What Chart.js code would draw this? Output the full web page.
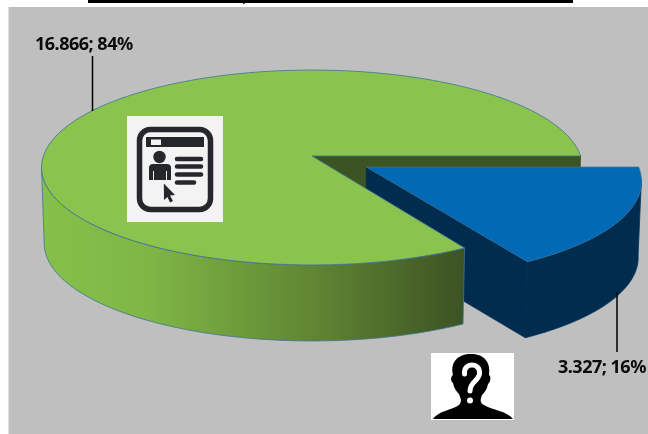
<!DOCTYPE html>
<html>
<head>
<meta charset="utf-8">
<title>Users</title>
<style>
  html, body { margin: 0; padding: 0; background: #fff; }
  canvas { display: block; }
</style>
<script src="https://cdn.jsdelivr.net/npm/chart.js@4"></script>
</head>
<body>
<canvas id="grafik" width="648" height="434"></canvas>
<script>
const categories = ['Unknown', 'Registered'];
const values = [3327, 16866];
const sliceColors = ['#0169B5', '#8AC44F'];
const explodeOffsets = [23, 0]; // percent of the radius

// tilted disc: half axes, perspective and wall height
const RX = 268.6;
const RY = 96.1;
const PERSP = 0.118;
const DEPTH = 76;
// rim angle where the disc outline turns vertical
const SIDE_ANGLE = Math.asin(PERSP);

function project(arc, u, v, lower) {
  const w = 1 - PERSP * v;
  const f = lower ? 0.99 : 1;
  return [arc.x + RX * u / w * f, arc.y + RY * v / w + (lower ? DEPTH : 0)];
}

function sliceCentre(arc) {
  const mid = (arc.startAngle + arc.endAngle) / 2;
  const off = (arc.options.offset || 0) / 100;
  return [Math.cos(mid) * off, Math.sin(mid) * off];
}

function rimPoints(arc, from, to, lower) {
  const [ou, ov] = sliceCentre(arc);
  const pts = [];
  const steps = 120;
  for (let i = 0; i <= steps; i++) {
    const a = from + (to - from) * i / steps;
    pts.push(project(arc, ou + Math.cos(a), ov + Math.sin(a), lower));
  }
  return pts;
}

function fillPoly(ctx, pts, fill, stroke) {
  ctx.beginPath();
  pts.forEach((p, i) => i ? ctx.lineTo(p[0], p[1]) : ctx.moveTo(p[0], p[1]));
  ctx.closePath();
  ctx.fillStyle = fill;
  ctx.fill();
  if (stroke) {
    ctx.strokeStyle = stroke;
    ctx.lineWidth = 0.8;
    ctx.stroke();
  }
}

function drawTop(ctx, arc) {
  const [ou, ov] = sliceCentre(arc);
  const apex = project(arc, ou, ov, false);
  const rim = rimPoints(arc, arc.startAngle, arc.endAngle, false);
  fillPoly(ctx, [apex, ...rim], arc.options.backgroundColor, '#3F7392');
}

function drawOuterWall(ctx, arc, from, to, fill, stroke) {
  const top = rimPoints(arc, from, to, false);
  const bottom = rimPoints(arc, from, to, true).reverse();
  fillPoly(ctx, [...top, ...bottom], fill, stroke);
}

function drawRadialWall(ctx, arc, angle, fill) {
  const [ou, ov] = sliceCentre(arc);
  const px = ou + Math.cos(angle);
  const py = ov + Math.sin(angle);
  fillPoly(ctx, [
    project(arc, ou, ov, false),
    project(arc, px, py, false),
    project(arc, px, py, true),
    project(arc, ou, ov, true)
  ], fill, fill);
}

function roundRectPath(ctx, x, y, w, h, r) {
  ctx.beginPath();
  ctx.roundRect(x, y, w, h, r);
}

function drawProfileIcon(ctx) {
  const ink = '#26272B';
  ctx.fillStyle = '#F3F3F3';
  ctx.fillRect(127, 116, 96, 106);

  ctx.strokeStyle = ink;
  ctx.lineWidth = 5.5;
  roundRectPath(ctx, 139.5, 129.5, 71, 80, 11);
  ctx.stroke();

  ctx.fillStyle = ink;
  ctx.fillRect(146, 137, 58, 10);
  ctx.fillStyle = '#F3F3F3';
  ctx.fillRect(151, 139.5, 10, 5.5);

  ctx.fillStyle = ink;
  ctx.beginPath();
  ctx.arc(159.5, 157, 6.2, 0, Math.PI * 2);
  ctx.fill();
  roundRectPath(ctx, 149, 164, 22, 16, [4, 4, 0, 0]);
  ctx.fill();
  ctx.fillStyle = '#F3F3F3';
  ctx.fillRect(153, 171, 1, 9);
  ctx.fillRect(166, 171, 1, 9);

  ctx.strokeStyle = ink;
  ctx.lineWidth = 4.5;
  ctx.lineCap = 'round';
  [[159, 201], [166.5, 201], [174.5, 201], [182.5, 194]].forEach(([y, x2]) => {
    ctx.beginPath();
    ctx.moveTo(177, y);
    ctx.lineTo(x2, y);
    ctx.stroke();
  });
  ctx.lineCap = 'butt';

  // pointer
  ctx.fillStyle = ink;
  ctx.beginPath();
  ctx.moveTo(163.8, 183.5);
  ctx.lineTo(175, 195);
  ctx.lineTo(170, 195.5);
  ctx.lineTo(173, 201);
  ctx.lineTo(170, 202.5);
  ctx.lineTo(167.5, 197);
  ctx.lineTo(164, 200);
  ctx.closePath();
  ctx.fill();
}

function drawUnknownIcon(ctx) {
  ctx.fillStyle = '#FFFFFF';
  ctx.fillRect(431, 353, 83, 67);

  ctx.fillStyle = '#000000';
  ctx.beginPath();
  ctx.moveTo(433, 419);
  ctx.bezierCurveTo(438, 411, 452, 410, 459, 405);
  ctx.bezierCurveTo(462, 402, 461, 399, 459, 394);
  ctx.bezierCurveTo(456, 391, 454, 388, 453, 383);
  ctx.bezierCurveTo(450, 381, 451, 376, 453, 375);
  ctx.bezierCurveTo(450, 362, 458, 354, 471, 354);
  ctx.bezierCurveTo(483, 354, 491, 361, 489, 375);
  ctx.bezierCurveTo(491, 376, 491, 382, 488, 384);
  ctx.bezierCurveTo(487, 389, 485, 392, 482, 395);
  ctx.bezierCurveTo(480, 400, 480, 403, 484, 405);
  ctx.bezierCurveTo(492, 410, 507, 411, 513, 419);
  ctx.closePath();
  ctx.fill();

  // question mark
  ctx.strokeStyle = '#FFFFFF';
  ctx.lineWidth = 5;
  ctx.lineCap = 'round';
  ctx.beginPath();
  ctx.moveTo(464.5, 374);
  ctx.bezierCurveTo(463, 362, 481, 362, 479.5, 374);
  ctx.bezierCurveTo(478.5, 381, 470, 382, 470, 391);
  ctx.stroke();
  ctx.lineCap = 'butt';
  ctx.fillStyle = '#FFFFFF';
  ctx.beginPath();
  ctx.arc(470, 400.5, 3, 0, Math.PI * 2);
  ctx.fill();
}

function sliceLabel(i) {
  const total = values.reduce((a, b) => a + b, 0);
  return values[i].toLocaleString('de-DE') + '; ' + Math.round(values[i] / total * 100) + '%';
}

function drawLabels(ctx) {
  ctx.strokeStyle = '#000';
  ctx.lineWidth = 1.5;
  ctx.beginPath();
  ctx.moveTo(92.5, 56);
  ctx.lineTo(92.5, 111);
  ctx.moveTo(617, 292);
  ctx.lineTo(617, 352);
  ctx.stroke();

  ctx.fillStyle = '#0B0B0B';
  ctx.font = 'bold 18px "Noto Sans"';
  ctx.letterSpacing = '-0.5px';
  ctx.textBaseline = 'alphabetic';
  ctx.textAlign = 'left';
  ctx.fillText(sliceLabel(1), 35, 50);
  ctx.fillText(sliceLabel(0), 558, 373);
  ctx.letterSpacing = '0px';
}

const pie3d = {
  id: 'pie3d',
  beforeDraw(chart) {
    const ctx = chart.ctx;
    ctx.save();
    ctx.fillStyle = '#BFBFBF';
    ctx.fillRect(8.5, 7, 640, 427);
    // underline of the heading above the plot
    ctx.fillStyle = '#000';
    ctx.fillRect(88, 0, 485, 3);
    ctx.fillRect(243, 3, 1.5, 1);
    ctx.restore();
  },
  beforeDatasetsDraw(chart) {
    const ctx = chart.ctx;
    const [blue, green] = chart.getDatasetMeta(0).data;
    const grad = ctx.createLinearGradient(43, 0, 462, 0);
    grad.addColorStop(0, '#85C04B');
    grad.addColorStop(0.25, '#7FB646');
    grad.addColorStop(0.67, '#5E8232');
    grad.addColorStop(1, '#3D5324');

    ctx.save();
    // back face of the big slice sits behind the pulled out one
    drawRadialWall(ctx, green, green.endAngle, '#3C5323');

    drawOuterWall(ctx, blue, blue.startAngle + SIDE_ANGLE, blue.endAngle, '#002C50', '#00345E');
    drawRadialWall(ctx, blue, blue.endAngle, '#002C50');
    drawTop(ctx, blue);

    drawOuterWall(ctx, green, green.startAngle, Math.PI - SIDE_ANGLE, grad, '#3F7392');
    drawTop(ctx, green);

    drawProfileIcon(ctx);
    drawUnknownIcon(ctx);
    drawLabels(ctx);
    ctx.restore();
    return false;
  }
};

new Chart(document.getElementById('grafik').getContext('2d'), {
  type: 'pie',
  data: {
    labels: categories,
    datasets: [{
      data: values,
      backgroundColor: sliceColors,
      offset: explodeOffsets,
      borderWidth: 0
    }]
  },
  options: {
    responsive: false,
    animation: false,
    rotation: 90,
    layout: { padding: { left: 0, right: 24, top: 0, bottom: 122 } },
    plugins: {
      legend: { display: false },
      tooltip: { enabled: false }
    }
  },
  plugins: [pie3d]
});
</script>
</body>
</html>
